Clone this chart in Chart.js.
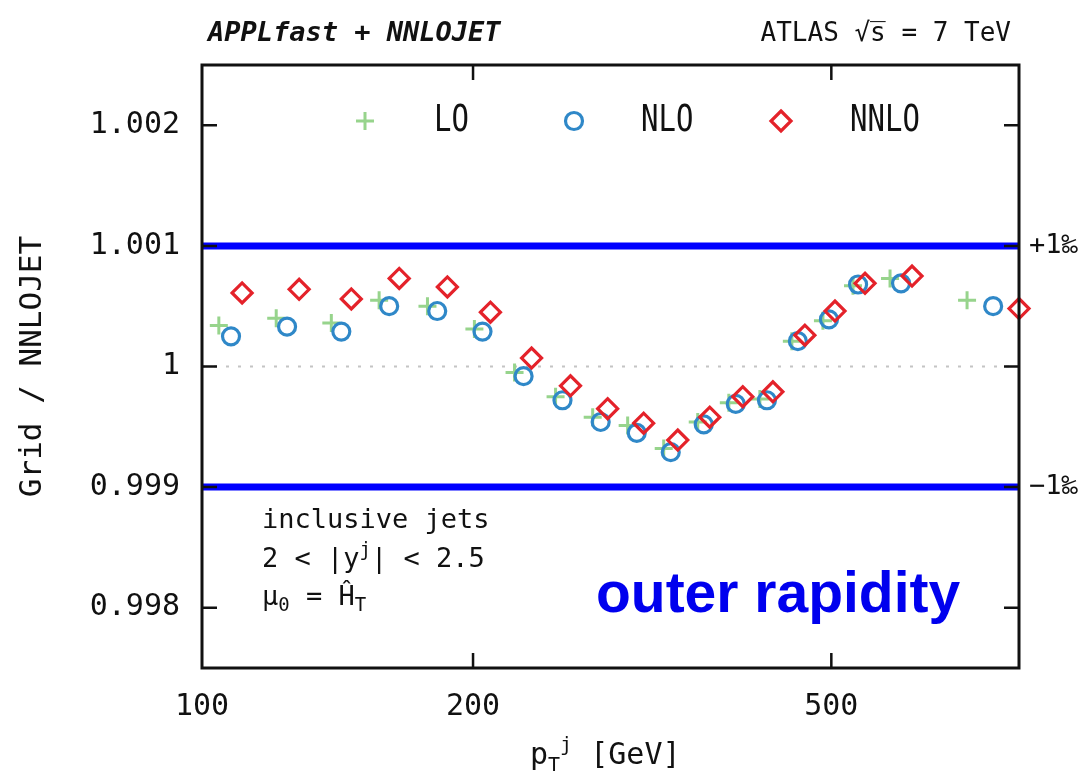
<!DOCTYPE html>
<html><head><meta charset="utf-8">
<script src="https://cdn.jsdelivr.net/npm/chart.js@4"></script>
<style>html,body{margin:0;padding:0;background:#fff}canvas{display:block}</style>
</head><body>
<canvas id="c" width="1082" height="773"></canvas>
<script>
// ---- data ----
const ptLO   = [104.4,120.9,139.2,157.3,178.0,200.7,222.4,247.0,271.6,297.0,325.7,355.3,384.7,416.5,452.0,489.4,528.5,581.0,707.5];
const ratioLO   = [1.00034,1.00040,1.00036,1.00055,1.00050,1.00031,0.99995,0.99975,0.99958,0.99951,0.99932,0.99954,0.99970,0.99973,1.00021,1.00038,1.00067,1.00073,1.00055];
const ptNLO  = [107.7,124.3,142.8,161.4,182.5,204.9,227.6,251.4,277.2,304.0,331.6,360.8,391.6,424.1,459.0,497.0,535.4,597.6,756.3];
const ratioNLO  = [1.00025,1.00033,1.00029,1.00050,1.00046,1.00029,0.99992,0.99972,0.99954,0.99945,0.99929,0.99952,0.99969,0.99972,1.00021,1.00039,1.00068,1.00069,1.00050];
const ptNNLO = [110.8,128.2,146.5,165.6,187.3,209.1,232.3,256.6,282.2,309.4,337.6,366.4,398.7,430.6,467.3,504.7,545.0,614.6,808.0];
const ratioNNLO = [1.00061,1.00064,1.00056,1.00073,1.00066,1.00045,1.00007,0.99984,0.99965,0.99953,0.99939,0.99958,0.99975,0.99979,1.00026,1.00046,1.00069,1.00075,1.00048];
const seriesNames = ['LO','NLO','NNLO'];
const xTicks = [100, 200, 500];
const yTicks = [0.998, 0.999, 1, 1.001, 1.002];
const xRange = [100, 808];
const yRange = [0.9975, 1.0025];
const bandLevels = [1.001, 0.999];
const bandLabels = ['+1‰', '−1‰'];
const refLevel = 1;

const MONO = 'DejaVu Sans Mono';
const colLO = '#97d48c', colNLO = '#2f88c8', colNNLO = '#e4222a';

const pts = (xs, ys) => xs.map((x, i) => ({x, y: ys[i]}));
const hline = (v) => [{x: xRange[0], y: v}, {x: xRange[1], y: v}];

const styleLO   = {pointStyle:'cross',   radius:9,   color:colLO,   width:3};
const styleNLO  = {pointStyle:'circle',  radius:8.5, color:colNLO,  width:3.2};
const styleNNLO = {pointStyle:'rectRot', radius:10,  color:colNNLO, width:3.2};

function scatterDs(label, data, st) {
  return {type:'scatter', label, data, showLine:false, clip:false,
    pointStyle:st.pointStyle, pointRadius:st.radius, pointHoverRadius:st.radius,
    pointBorderColor:st.color, pointBackgroundColor:'rgba(0,0,0,0)', pointBorderWidth:st.width};
}

function drawMarker(ctx, st, x, y) {
  ctx.save();
  ctx.strokeStyle = st.color; ctx.lineWidth = st.width;
  ctx.beginPath();
  const r = st.radius;
  if (st.pointStyle === 'cross') { ctx.moveTo(x-r,y); ctx.lineTo(x+r,y); ctx.moveTo(x,y-r); ctx.lineTo(x,y+r); }
  else if (st.pointStyle === 'circle') { ctx.arc(x,y,r,0,Math.PI*2); }
  else { ctx.moveTo(x,y-r); ctx.lineTo(x+r,y); ctx.lineTo(x,y+r); ctx.lineTo(x-r,y); ctx.closePath(); }
  ctx.stroke();
  ctx.restore();
}

function drawRich(ctx, x, y, parts) {
  let cx = x;
  for (const p of parts) {
    ctx.font = (p.style || '') + ' ' + p.size + 'px "' + MONO + '"';
    ctx.fillText(p.t, cx, y + (p.dy || 0));
    cx += ctx.measureText(p.t).width;
  }
}

const decor = {
  id: 'decor',
  afterDatasetsDraw(chart) {
    const {ctx, chartArea: a, scales: {x, y}} = chart;
    ctx.save();
    // frame
    ctx.strokeStyle = '#111'; ctx.lineWidth = 3;
    ctx.strokeRect(a.left, a.top, a.right - a.left, a.bottom - a.top);
    // inward ticks
    ctx.lineWidth = 2.5;
    ctx.beginPath();
    for (const v of yTicks) {
      const py = y.getPixelForValue(v);
      ctx.moveTo(a.left, py); ctx.lineTo(a.left + 15, py);
      ctx.moveTo(a.right, py); ctx.lineTo(a.right - 15, py);
    }
    for (const v of xTicks) {
      const px = x.getPixelForValue(v);
      if (px <= a.left + 2 || px >= a.right - 2) continue;
      ctx.moveTo(px, a.bottom); ctx.lineTo(px, a.bottom - 15);
      ctx.moveTo(px, a.top); ctx.lineTo(px, a.top + 15);
    }
    ctx.stroke();

    ctx.fillStyle = '#111';
    ctx.textAlign = 'left';
    // band labels
    ctx.textBaseline = 'middle';
    ctx.font = '27px "' + MONO + '"';
    bandLevels.forEach((v, i) => ctx.fillText(bandLabels[i], a.right + 10, y.getPixelForValue(v)));

    // titles
    ctx.textBaseline = 'alphabetic';
    ctx.font = 'italic bold 27px "' + MONO + '"';
    ctx.fillText('APPLfast + NNLOJET', 208, 41);
    ctx.textAlign = 'right';
    ctx.font = '26px "' + MONO + '"';
    ctx.fillText('ATLAS √s\u0305 = 7 TeV', 1011, 41);
    ctx.textAlign = 'left';

    // legend
    const legendItems = [[styleLO, 365, 434], [styleNLO, 574, 641], [styleNNLO, 781, 850]];
    legendItems.forEach(([st, mx, tx], i) => {
      drawMarker(ctx, st, mx, 121);
      ctx.save();
      ctx.translate(tx, 121);
      ctx.scale(1, 1.27);
      ctx.font = '29px "' + MONO + '"';
      ctx.textBaseline = 'middle';
      ctx.fillStyle = '#111';
      ctx.fillText(seriesNames[i], 0, 0);
      ctx.restore();
    });

    // annotation
    ctx.textBaseline = 'alphabetic';
    drawRich(ctx, 262, 528, [{t:'inclusive jets', size:27}]);
    drawRich(ctx, 262, 567, [{t:'2 < |y', size:27}, {t:'j', size:19, dy:-11}, {t:'| < 2.5', size:27}]);
    drawRich(ctx, 262, 605, [{t:'μ', size:27}, {t:'0', size:19, dy:6}, {t:' = Ĥ', size:27}, {t:'T', size:19, dy:6}]);

    // x-axis title
    drawRich(ctx, 530, 764, [{t:'p', size:30}, {t:'T', size:20, dy:7}, {t:'j', size:20, dy:-13}, {t:' [GeV]', size:30}]);

    // big label
    ctx.fillStyle = '#0000ee';
    ctx.font = 'bold 57px "Liberation Sans", Arial, sans-serif';
    ctx.fillText('outer rapidity', 596, 612);
    ctx.restore();
  }
};

new Chart(document.getElementById('c'), {
  data: {
    datasets: [
      scatterDs('NNLO', pts(ptNNLO, ratioNNLO), styleNNLO),
      scatterDs('NLO',  pts(ptNLO,  ratioNLO),  styleNLO),
      scatterDs('LO',   pts(ptLO,   ratioLO),   styleLO),
      {type:'line', label:'+1', data: hline(bandLevels[0]), borderColor:'#0000ff', borderWidth:7, pointRadius:0, clip:false},
      {type:'line', label:'-1', data: hline(bandLevels[1]), borderColor:'#0000ff', borderWidth:7, pointRadius:0, clip:false},
      {type:'line', label:'ref', data: hline(refLevel), borderColor:'#c4c4c4', borderWidth:2, borderDash:[3,9], pointRadius:0}
    ]
  },
  options: {
    responsive: false, animation: false, devicePixelRatio: 1,
    layout: {padding: {top: 65, right: 63, left: 0, bottom: 0}},
    plugins: {legend: {display: false}, tooltip: {enabled: false}},
    scales: {
      x: {
        type: 'logarithmic', min: xRange[0], max: xRange[1], position: 'bottom',
        afterBuildTicks: s => { s.ticks = xTicks.map(v => ({value: v})); },
        afterFit: s => { s.height = 105; },
        ticks: {callback: v => String(v), font: {family: MONO, size: 30}, color: '#111', padding: 21, maxRotation: 0, autoSkip: false},
        grid: {display: false, drawTicks: false}, border: {display: false}
      },
      y: {
        type: 'linear', min: yRange[0], max: yRange[1],
        afterBuildTicks: s => { s.ticks = yTicks.map(v => ({value: v})); },
        afterFit: s => { s.width = 202; },
        ticks: {callback: v => (v === 1 ? '1' : v.toFixed(3)), font: {family: MONO, size: 30}, color: '#111', padding: 22},
        grid: {display: false, drawTicks: false}, border: {display: false},
        title: {display: true, text: 'Grid / NNLOJET', font: {family: MONO, size: 31}, color: '#111', padding: {top: 14, bottom: 0}}
      }
    }
  },
  plugins: [decor]
});
</script>
</body></html>
